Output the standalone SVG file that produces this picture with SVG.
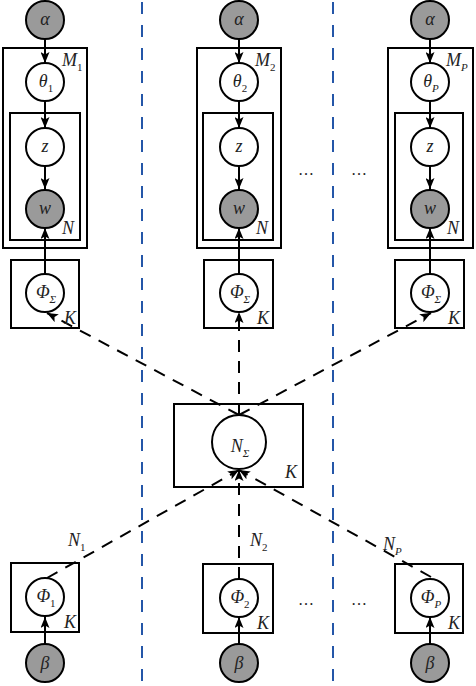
<svg xmlns="http://www.w3.org/2000/svg" width="476" height="686" viewBox="0 0 476 686">
<defs>
<marker id="arr" markerUnits="userSpaceOnUse" markerWidth="11" markerHeight="9" viewBox="0 0 11 9" refX="11" refY="4.5" orient="auto">
<path d="M0,0 L11,4.5 L0,9 L2.5,4.5 z" fill="#000"/>
</marker>
</defs>
<style>
.plate{fill:none;stroke:#000;stroke-width:2}
.obs{fill:#9a9a9a;stroke:#000;stroke-width:2}
.lat{fill:#fff;stroke:#000;stroke-width:2}
.e{stroke:#000;stroke-width:2;fill:none;marker-end:url(#arr)}
.d{stroke:#000;stroke-width:2;fill:none;stroke-dasharray:12 9;marker-end:url(#arr)}
.sep{stroke:#2456a8;stroke-width:2;stroke-dasharray:12 11;fill:none}
text{font-family:"Liberation Serif","DejaVu Serif",serif;font-style:italic;fill:#222}
.c{font-size:18px;text-anchor:middle}
.l{font-size:18px}
.s{font-size:11px}
.n{font-style:normal}
.dots{font-family:"Liberation Serif",serif;font-style:normal;font-size:16px}
</style>
<rect width="476" height="686" fill="#fff"/>
<g id="separators">
<line class="sep" x1="142" y1="2" x2="142" y2="686"/>
<line class="sep" x1="333" y1="2" x2="333" y2="686"/>
</g>
<g id="connectors">
<line class="e" x1="45" y1="39" x2="45" y2="63"/>
<line class="e" x1="45" y1="101" x2="45" y2="128"/>
<line class="e" x1="45" y1="166" x2="45" y2="189"/>
<line class="e" x1="45" y1="274" x2="45" y2="228"/>
<line class="e" x1="45" y1="644" x2="45" y2="617"/>
<line class="e" x1="239" y1="39" x2="239" y2="63"/>
<line class="e" x1="239" y1="101" x2="239" y2="128"/>
<line class="e" x1="239" y1="166" x2="239" y2="189"/>
<line class="e" x1="239" y1="274" x2="239" y2="228"/>
<line class="e" x1="239" y1="644" x2="239" y2="617"/>
<line class="e" x1="430" y1="39" x2="430" y2="63"/>
<line class="e" x1="430" y1="101" x2="430" y2="128"/>
<line class="e" x1="430" y1="166" x2="430" y2="189"/>
<line class="e" x1="430" y1="274" x2="430" y2="228"/>
<line class="e" x1="430" y1="644" x2="430" y2="617"/>
<line class="d" x1="239" y1="415" x2="47" y2="313"/>
<line class="d" x1="239" y1="415" x2="239" y2="312"/>
<line class="d" x1="239" y1="415" x2="431" y2="313"/>
<line class="d" x1="47" y1="578" x2="239" y2="470"/>
<line class="d" x1="239" y1="579" x2="239" y2="470"/>
<line class="d" x1="431" y1="577" x2="239" y2="470"/>
</g>
<g id="col1">
<rect class="plate" x="3" y="48" width="84" height="200"/>
<rect class="plate" x="10" y="113" width="70" height="127"/>
<text class="l" x="62" y="66">M<tspan class="s n" dy="5">1</tspan></text>
<text class="l" x="62" y="234">N</text>
</g>
<g id="col2">
<rect class="plate" x="197" y="48" width="84" height="200"/>
<rect class="plate" x="203" y="113" width="70" height="127"/>
<text class="l" x="255" y="66">M<tspan class="s n" dy="5">2</tspan></text>
<text class="l" x="256" y="234">N</text>
</g>
<g id="col3">
<rect class="plate" x="388" y="48" width="85" height="200"/>
<rect class="plate" x="395" y="113" width="68" height="127"/>
<text class="l" x="446" y="66">M<tspan class="s" dy="5">P</tspan></text>
<text class="l" x="447" y="234">N</text>
</g>
<g id="alpha1"><circle class="obs" cx="45" cy="20" r="19"/><text class="c" x="45" y="25">α</text></g>
<g id="alpha2"><circle class="obs" cx="239" cy="20" r="19"/><text class="c" x="239" y="25">α</text></g>
<g id="alpha3"><circle class="obs" cx="430" cy="20" r="19"/><text class="c" x="430" y="25">α</text></g>
<g id="theta1"><circle class="lat" cx="45" cy="82" r="19"/><text class="c" x="46" y="87">θ<tspan class="s n" dy="5">1</tspan></text></g>
<g id="theta2"><circle class="lat" cx="239" cy="82" r="19"/><text class="c" x="240" y="87">θ<tspan class="s n" dy="5">2</tspan></text></g>
<g id="theta3"><circle class="lat" cx="430" cy="82" r="19"/><text class="c" x="431" y="87">θ<tspan class="s" dy="5">P</tspan></text></g>
<g id="z1"><circle class="lat" cx="45" cy="147" r="19"/><text class="c" x="45" y="152">z</text></g>
<g id="z2"><circle class="lat" cx="239" cy="147" r="19"/><text class="c" x="239" y="152">z</text></g>
<g id="z3"><circle class="lat" cx="430" cy="147" r="19"/><text class="c" x="430" y="152">z</text></g>
<g id="w1"><circle class="obs" cx="45" cy="209" r="19"/><text class="c" x="45" y="214">w</text></g>
<g id="w2"><circle class="obs" cx="239" cy="209" r="19"/><text class="c" x="239" y="214">w</text></g>
<g id="w3"><circle class="obs" cx="430" cy="209" r="19"/><text class="c" x="430" y="214">w</text></g>
<g id="phiS1">
<rect class="plate" x="11" y="260" width="68" height="68"/>
<circle class="lat" cx="45" cy="293" r="19"/>
<text class="c" x="46" y="298">Φ<tspan class="s" dy="5">Σ</tspan></text>
<text class="l" x="64" y="324">K</text>
</g>
<g id="phiS2">
<rect class="plate" x="204" y="260" width="69" height="68"/>
<circle class="lat" cx="239" cy="293" r="19"/>
<text class="c" x="240" y="298">Φ<tspan class="s" dy="5">Σ</tspan></text>
<text class="l" x="257" y="324">K</text>
</g>
<g id="phiS3">
<rect class="plate" x="395" y="260" width="69" height="68"/>
<circle class="lat" cx="430" cy="293" r="19"/>
<text class="c" x="431" y="298">Φ<tspan class="s" dy="5">Σ</tspan></text>
<text class="l" x="448" y="324">K</text>
</g>
<g id="NSigma">
<rect class="plate" x="174" y="404" width="129" height="83"/>
<circle class="lat" cx="239" cy="442" r="27"/>
<text class="c" x="240" y="452">N<tspan class="s" dy="5">Σ</tspan></text>
<text class="l" x="285" y="478">K</text>
</g>
<g id="phi1">
<rect class="plate" x="11" y="563" width="68" height="69"/>
<circle class="lat" cx="45" cy="597" r="19"/>
<text class="c" x="46" y="602">Φ<tspan class="s n" dy="5">1</tspan></text>
<text class="l" x="64" y="628">K</text>
</g>
<g id="phi2">
<rect class="plate" x="203" y="564" width="70" height="69"/>
<circle class="lat" cx="239" cy="598" r="19"/>
<text class="c" x="240" y="603">Φ<tspan class="s n" dy="5">2</tspan></text>
<text class="l" x="257" y="629">K</text>
</g>
<g id="phi3">
<rect class="plate" x="395" y="564" width="68" height="69"/>
<circle class="lat" cx="430" cy="598" r="19"/>
<text class="c" x="431" y="603">Φ<tspan class="s" dy="5">P</tspan></text>
<text class="l" x="448" y="629">K</text>
</g>
<g id="beta1"><circle class="obs" cx="45" cy="663" r="19"/><text class="c" x="45" y="669">β</text></g>
<g id="beta2"><circle class="obs" cx="239" cy="663" r="19"/><text class="c" x="239" y="669">β</text></g>
<g id="beta3"><circle class="obs" cx="430" cy="663" r="19"/><text class="c" x="430" y="669">β</text></g>
<g id="labels">
<text class="l" x="68" y="546">N<tspan class="s n" dy="5">1</tspan></text>
<text class="l" x="250" y="546">N<tspan class="s n" dy="5">2</tspan></text>
<text class="l" x="383" y="550">N<tspan class="s" dy="5">P</tspan></text>
<text class="dots" x="298" y="175">…</text>
<text class="dots" x="351" y="175">…</text>
<text class="dots" x="298" y="605">…</text>
<text class="dots" x="351" y="605">…</text>
</g>
</svg>
